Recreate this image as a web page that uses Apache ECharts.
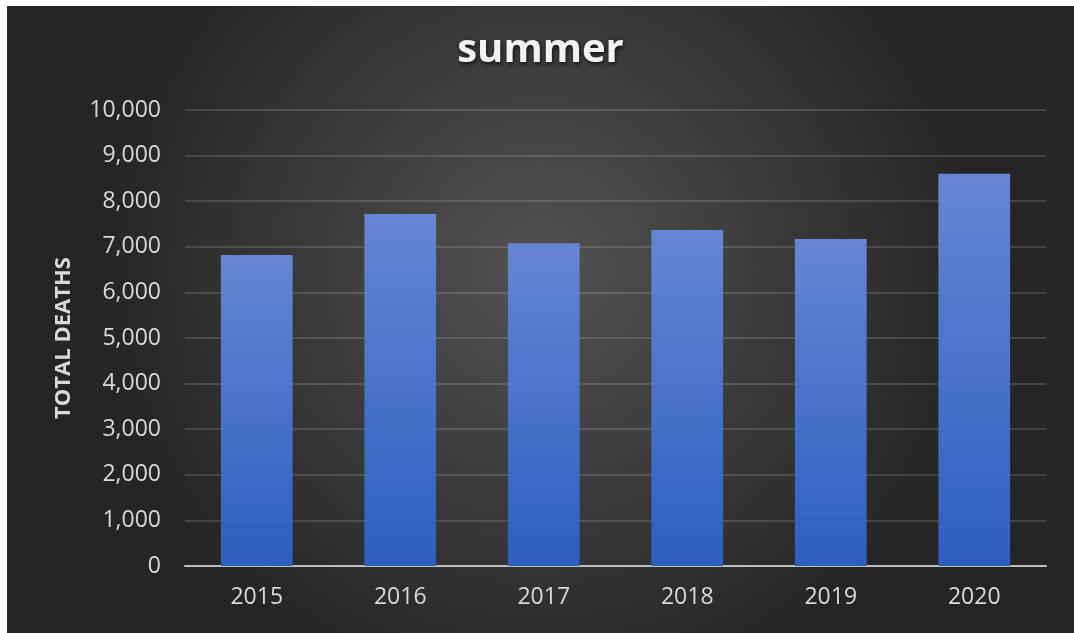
<!DOCTYPE html>
<html>
<head>
<meta charset="utf-8">
<script src="https://cdn.jsdelivr.net/npm/echarts@6/dist/echarts.min.js"></script>
<style>
  html, body { margin: 0; padding: 0; background: #ffffff; }
  #chart { position: absolute; left: 7px; top: 6px; width: 1067px; height: 627px; }
</style>
</head>
<body>
<div id="chart"></div>
<script>
// Summer deaths per year
const years = ['2015', '2016', '2017', '2018', '2019', '2020'];
const totalDeaths = [6820, 7720, 7080, 7370, 7170, 8600];
const yMin = 0;
const yMax = 10000;
const yStep = 1000;

const chart = echarts.init(document.getElementById('chart'));

chart.setOption({
  backgroundColor: {
    type: 'radial', x: 0.5, y: 0.42, r: 0.7,
    colorStops: [
      { offset: 0, color: '#525252' },
      { offset: 1, color: '#252525' }
    ]
  },
  title: {
    text: 'summer',
    left: 'center',
    top: 20,
    textStyle: {
      fontFamily: 'Open Sans',
      fontWeight: 'bold',
      fontSize: 40,
      color: '#f2f2f2',
      textShadowColor: 'rgba(0,0,0,0.7)',
      textShadowBlur: 4,
      textShadowOffsetX: 1,
      textShadowOffsetY: 2
    }
  },
  grid: { left: 178, right: 28, top: 104, bottom: 67 },
  xAxis: {
    type: 'category',
    data: years,
    axisTick: { show: false },
    axisLine: { lineStyle: { color: '#bfbfbf', width: 2 } },
    axisLabel: {
      color: '#d9d9d9',
      fontFamily: 'Open Sans',
      fontSize: 23,
      margin: 20
    }
  },
  yAxis: {
    type: 'value',
    min: yMin,
    max: yMax,
    interval: yStep,
    name: 'TOTAL DEATHS',
    nameLocation: 'middle',
    nameGap: 110,
    nameRotate: 90,
    nameTextStyle: {
      color: '#d9d9d9',
      fontFamily: 'Open Sans',
      fontWeight: 'bold',
      fontSize: 22
    },
    axisLine: { show: false },
    axisTick: { show: false },
    axisLabel: {
      color: '#d9d9d9',
      fontFamily: 'Open Sans',
      fontSize: 23,
      margin: 24,
      formatter: v => v.toLocaleString('en-US')
    },
    splitLine: { lineStyle: { color: 'rgba(255,255,255,0.14)', width: 2 } }
  },
  series: [{
    type: 'bar',
    data: totalDeaths,
    barWidth: '50%',
    itemStyle: {
      color: {
        type: 'linear', x: 0, y: 0, x2: 0, y2: 1,
        colorStops: [
          { offset: 0, color: '#6586d2' },
          { offset: 1, color: '#2d5fc0' }
        ]
      },
      shadowColor: 'rgba(0,0,0,0.6)',
      shadowBlur: 8
    }
  }]
});
</script>
</body>
</html>
